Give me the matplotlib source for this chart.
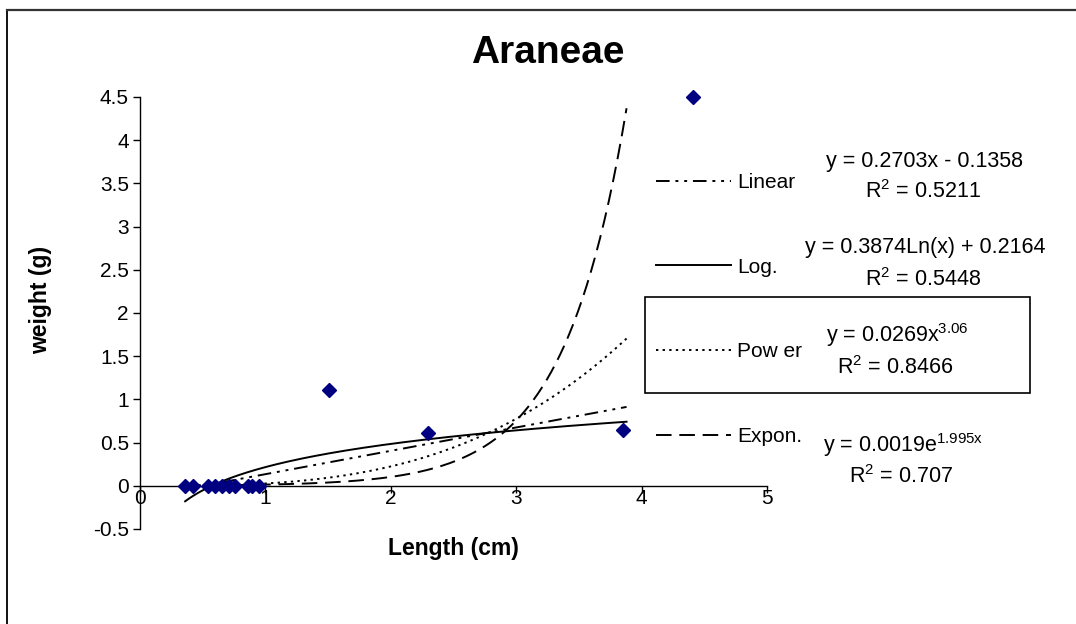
import numpy as np
import matplotlib
matplotlib.use("Agg")
import matplotlib.pyplot as plt
from matplotlib.lines import Line2D
from matplotlib.patches import Rectangle

plt.rcParams['font.family'] = ['Liberation Sans', 'DejaVu Sans']
plt.rcParams['mathtext.fontset'] = 'custom'
plt.rcParams['mathtext.rm'] = 'Liberation Sans'
plt.rcParams['mathtext.it'] = 'Liberation Sans'

# ---- data ----
length_cm = [0.36, 0.42, 0.54, 0.60, 0.65, 0.71, 0.76, 0.86, 0.89, 0.95, 1.51, 2.30, 3.85, 4.41]
weight_g = [0.0, 0.0, 0.0, 0.0, 0.0, 0.0, 0.0, 0.0, 0.0, 0.0, 1.11, 0.61, 0.65, 4.50]

trend_names = ["Linear", "Log.", "Pow er", "Expon."]
linear_coef = [0.2703, -0.1358]
log_coef = [0.3874, 0.2164]
power_coef = [0.0269, 3.06]
expon_coef = [0.0019, 1.995]
trend_range = [0.36, 3.88]
eq_texts = ["y = 0.2703x - 0.1358", "y = 0.3874Ln(x) + 0.2164",
            "y = 0.0269x$^{3.06}$", "y = 0.0019e$^{1.995x}$"]
r2_texts = ["R$^{2}$ = 0.5211", "R$^{2}$ = 0.5448", "R$^{2}$ = 0.8466", "R$^{2}$ = 0.707"]

x_ticks = [0, 1, 2, 3, 4, 5]
y_ticks = [-0.5, 0, 0.5, 1, 1.5, 2, 2.5, 3, 3.5, 4, 4.5]

W, H = 1076, 624
fig = plt.figure(figsize=(W / 100, H / 100), dpi=100)
ax = fig.add_axes([140 / W, 1 - 529 / H, (767 - 140) / W, (529 - 97) / H])

xs = np.linspace(trend_range[0], trend_range[1], 300)
curves = [
    linear_coef[0] * xs + linear_coef[1],
    log_coef[0] * np.log(xs) + log_coef[1],
    power_coef[0] * xs ** power_coef[1],
    expon_coef[0] * np.exp(expon_coef[1] * xs),
]
styles = [(0, (7, 3, 1.5, 3, 1.5, 3)), '-', (0, (1.2, 2.2)), (0, (8, 4))]
handles = []
for ys, ls in zip(curves, styles):
    h, = ax.plot(xs, ys, color='black', lw=1.4, linestyle=ls, zorder=2)
    handles.append(h)

ax.plot(length_cm, weight_g, linestyle='none', marker='D', markersize=7.5,
        color='#000080', zorder=3, clip_on=False)

ax.set_xlim(0, 5)
ax.set_ylim(-0.5, 4.5)
ax.set_xticks(x_ticks)
ax.set_yticks(y_ticks)
ax.set_xticklabels([f"{v:g}" for v in x_ticks])
ax.set_yticklabels([f"{v:g}" for v in y_ticks])
ax.spines['top'].set_visible(False)
ax.spines['right'].set_visible(False)
ax.spines['bottom'].set_position(('data', 0))
for s in ['left', 'bottom']:
    ax.spines[s].set_linewidth(1.0)
ax.tick_params(axis='both', direction='out', length=5, width=1, labelsize=15, pad=3)
ax.tick_params(axis='x', pad=-3)

fig.text(548 / W, 1 - 53 / H, "Araneae", fontsize=28, fontweight='bold',
         ha='center', va='center')
fig.text(453 / W, 1 - 548 / H, "Length (cm)", fontsize=16.5, fontweight='bold',
         ha='center', va='center')
fig.text(41 / W, 1 - 300 / H, "weight (g)", fontsize=16.5, fontweight='bold',
         ha='center', va='center', rotation=90)

# legend
fig.legend(handles, trend_names, loc='upper left',
           bbox_to_anchor=(656 / W, 1 - 173 / H), frameon=False, fontsize=15,
           handlelength=3.6, handletextpad=0.3, labelspacing=3.15, borderpad=0,
           borderaxespad=0)

# equations
eq_pos = [(925, 162, 192), (925, 248, 280), (897, 335, 368), (903, 445, 477)]
for (cx, ye, yr), t1, t2 in zip(eq_pos, eq_texts, r2_texts):
    fig.text(cx / W, 1 - ye / H, t1, fontsize=15.5, ha='center', va='center')
    fig.text((cx - 2) / W, 1 - yr / H, t2, fontsize=15.5, ha='center', va='center')

# box around Power entry
fig.add_artist(Rectangle((645 / W, 1 - 393 / H), (1030 - 645) / W, (393 - 297) / H,
                         transform=fig.transFigure, fill=False, edgecolor='black', lw=1.2))

# chart area border
fig.add_artist(Line2D([7 / W, 7 / W], [0, 1 - 10 / H], transform=fig.transFigure,
                      color='black', lw=1.3))
fig.add_artist(Line2D([7 / W, 1], [1 - 10 / H, 1 - 10 / H], transform=fig.transFigure,
                      color='#333333', lw=1.6))

fig.savefig("out.png", dpi=100)
